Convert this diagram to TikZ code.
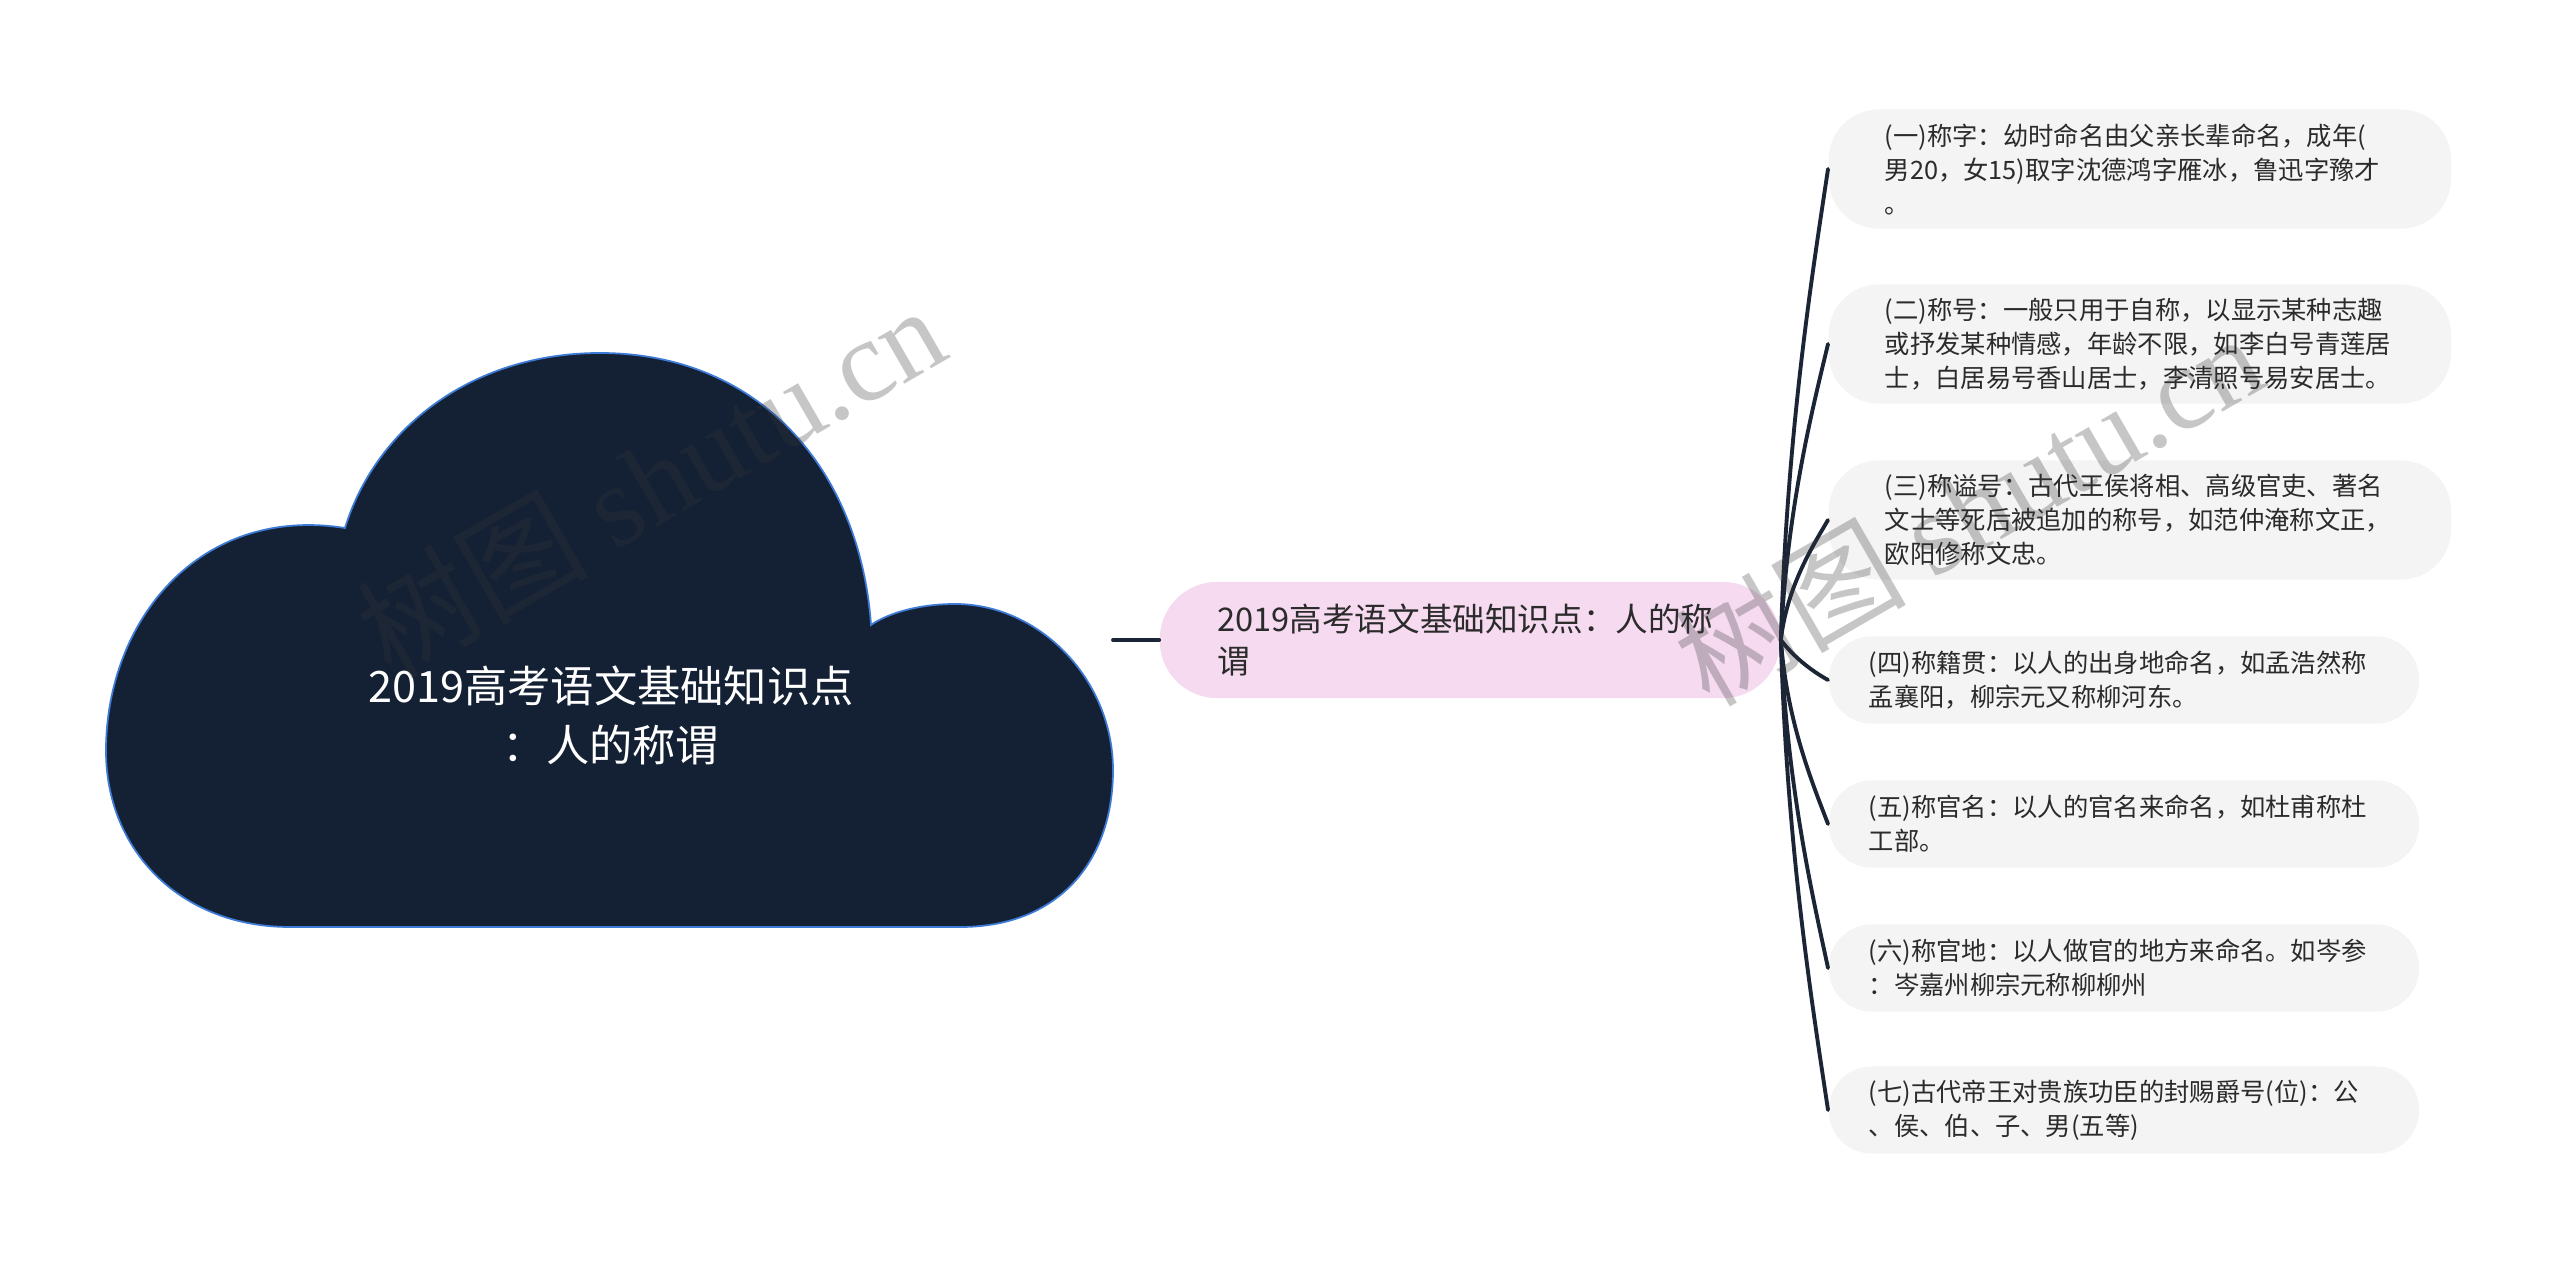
\documentclass[tikz,border=0pt]{standalone}
\usepackage{fontspec}
\setmainfont{Noto Sans CJK SC}
\newfontfamily\wmserif{Liberation Serif}
\definecolor{cloudfill}{HTML}{142135}
\definecolor{cloudline}{HTML}{3D7BD6}
\definecolor{connc}{HTML}{1C2536}
\definecolor{pinkfill}{HTML}{F5DAF0}
\definecolor{leaffill}{HTML}{F4F4F4}
\definecolor{txt}{HTML}{2B2B2B}
\tikzset{
  conn/.style={draw=connc, line width=1.1pt, line cap=round},
  leafbase/.style={fill=leaffill, anchor=west, align=left, text=txt,
    text width=5.1cm, inner ysep=0.03cm,
    font=\fontsize{7.2}{9.67}\selectfont},
  leafthree/.style={leafbase, inner xsep=0.56cm, minimum height=1.19cm, rounded corners=0.5cm},
  leaftwo/.style={leafbase, inner xsep=0.40cm, minimum height=0.87cm, rounded corners=0.43cm},
  topicbox/.style={fill=pinkfill, align=left, text=txt, text width=5.05cm,
    inner xsep=0.575cm, inner ysep=0.03cm, minimum height=1.16cm, rounded corners=0.57cm,
    font=\fontsize{9.27}{12.2}\selectfont},
  roottext/.style={align=center, text=white, font=\fontsize{12.3}{16.8}\selectfont},
  watermark/.style={text=gray!40!black, opacity=0.28, rotate=30, font=\fontsize{33}{36}\selectfont}
}
\begin{document}
\begin{tikzpicture}[x=0.01cm, y=-0.01cm]
\useasboundingbox (0,0) rectangle (2560,1264);
\fill[white] (0,0) rectangle (2560,1264);

% cloud
\path[fill=cloudfill, draw=cloudline, line width=0.5pt]
  (290,927) -- (960,927)
  .. controls (1060,927) and (1113,860) .. (1113,770)
  .. controls (1113,680) and (1040,604) .. (955,604)
  .. controls (915,604) and (885,615) .. (871,625)
  .. controls (860,470) and (760,353) .. (600,353)
  .. controls (470,353) and (375,430) .. (345,528)
  .. controls (200,505) and (106,620) .. (106,751)
  .. controls (106,850) and (180,927) .. (290,927) -- cycle;
\node[roottext] (root) at (611,715) {2019高考语文基础知识点\\：人的称谓};
\coordinate (cloudE) at (1113,640);

% topic
\node[topicbox] (topic) at (1470,640) {2019高考语文基础知识点：人的称\\谓};
\draw[conn] (cloudE) -- (topic.west);

% leaves
\node[leafthree] (l1) at (1828,169) {(一)称字：幼时命名由父亲长辈命名，成年(\\男20，女15)取字沈德鸿字雁冰，鲁迅字豫才\\。};
\node[leafthree] (l2) at (1828,344) {(二)称号：一般只用于自称，以显示某种志趣\\或抒发某种情感，年龄不限，如李白号青莲居\\士，白居易号香山居士，李清照号易安居士。};
\node[leafthree] (l3) at (1828,520) {(三)称谥号：古代王侯将相、高级官吏、著名\\文士等死后被追加的称号，如范仲淹称文正，\\欧阳修称文忠。};
\node[leaftwo] (l4) at (1828,680) {(四)称籍贯：以人的出身地命名，如孟浩然称\\孟襄阳，柳宗元又称柳河东。};
\node[leaftwo] (l5) at (1828,824) {(五)称官名：以人的官名来命名，如杜甫称杜\\工部。};
\node[leaftwo] (l6) at (1828,968) {(六)称官地：以人做官的地方来命名。如岑参\\：岑嘉州柳宗元称柳柳州};
\node[leaftwo] (l7) at (1828,1110) {(七)古代帝王对贵族功臣的封赐爵号(位)：公\\、侯、伯、子、男(五等)};

% connectors
\draw[conn] (topic.east) .. controls +(6,-212) and +(-14,94) .. (l1.west);
\draw[conn] (topic.east) .. controls +(6,-133) and +(-14,59) .. (l2.west);
\draw[conn] (topic.east) .. controls +(6,-54) and +(-14,24) .. (l3.west);
\draw[conn] (topic.east) .. controls +(12,16) and +(-18,-10) .. (l4.west);
\draw[conn] (topic.east) .. controls +(6,83) and +(-14,-37) .. (l5.west);
\draw[conn] (topic.east) .. controls +(6,148) and +(-14,-66) .. (l6.west);
\draw[conn] (topic.east) .. controls +(6,212) and +(-14,-94) .. (l7.west);

% watermarks
\node[watermark] (wm1) at (650,480) {树图 {\wmserif shutu.cn}};
\node[watermark] (wm2) at (1968,508) {树图 {\wmserif shutu.cn}};
\end{tikzpicture}
\end{document}
